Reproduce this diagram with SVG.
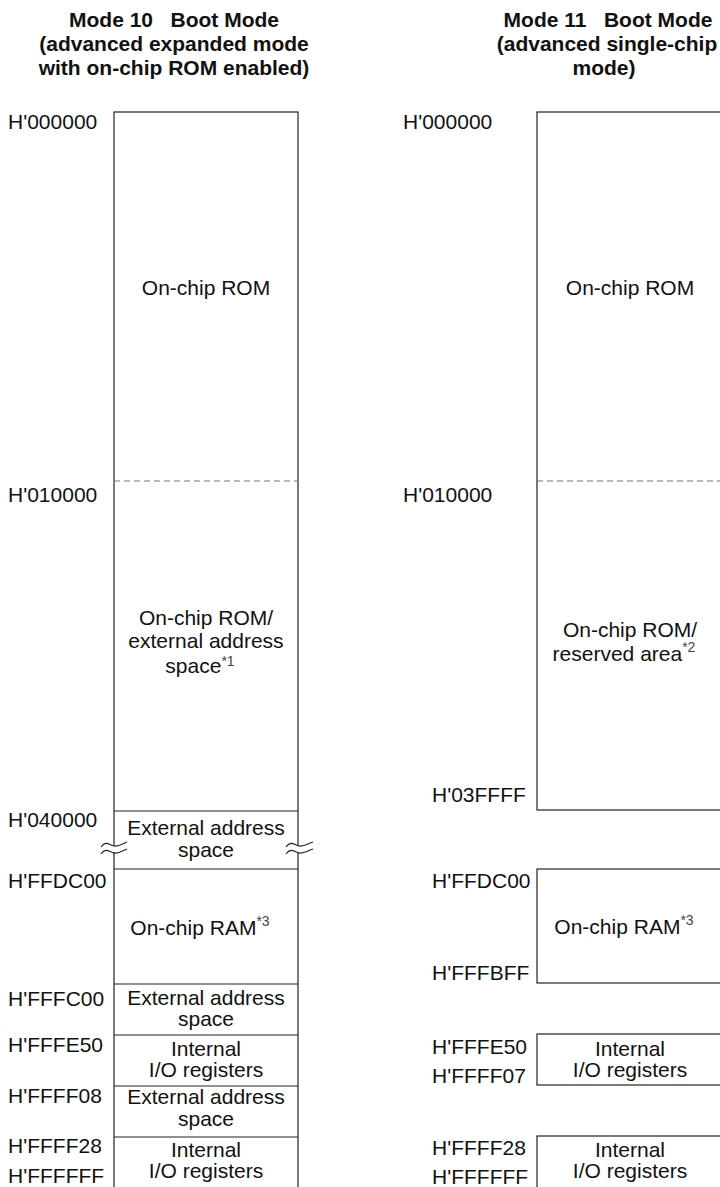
<svg xmlns="http://www.w3.org/2000/svg" width="720" height="1187" viewBox="0 0 720 1187">
<style>
text{font-family:"Liberation Sans",Arial,sans-serif;font-size:21px;fill:#111}
.t{font-weight:bold;text-anchor:middle}
.c{text-anchor:middle}
.sup{font-size:14px;fill:#444}
.box{fill:#fff;stroke:#222;stroke-width:1.2}
.ln{stroke:#222;stroke-width:1.2;fill:none}
.dash{stroke:#777;stroke-width:1.2;stroke-dasharray:6 4;fill:none}
.brk{stroke:#222;stroke-width:1.1;fill:none}
</style>
<rect width="720" height="1187" fill="#fff"/>
<g id="title-left">
<text class="t" x="174" y="27" xml:space="preserve">Mode 10   Boot Mode</text>
<text class="t" x="174" y="51">(advanced expanded mode</text>
<text class="t" x="174" y="75">with on-chip ROM enabled)</text>
</g>
<g id="title-right">
<text class="t" x="608" y="27" xml:space="preserve">Mode 11   Boot Mode</text>
<text class="t" x="607" y="51">(advanced single-chip</text>
<text class="t" x="604" y="75">mode)</text>
</g>
<g id="left-map">
<rect class="box" x="114" y="112" width="184" height="1080"/>
<line class="dash" x1="114" y1="481" x2="298" y2="481"/>
<line class="ln" x1="114" y1="811" x2="298" y2="811"/>
<line class="ln" x1="114" y1="869" x2="298" y2="869"/>
<line class="ln" x1="114" y1="984" x2="298" y2="984"/>
<line class="ln" x1="114" y1="1035" x2="298" y2="1035"/>
<line class="ln" x1="114" y1="1086" x2="298" y2="1086"/>
<line class="ln" x1="114" y1="1137" x2="298" y2="1137"/>
<rect x="110" y="846" width="8" height="6" fill="#fff"/>
<rect x="294" y="846" width="8" height="6" fill="#fff"/>
<path class="brk" d="M101,847 C106,840 109,845 114,846 S122,844 127,842"/>
<path class="brk" d="M101,854 C106,847 109,852 114,853 S122,851 127,849"/>
<path class="brk" d="M286,847 C291,840 294,845 299,846 S307,844 313,842"/>
<path class="brk" d="M286,854 C291,847 294,852 299,853 S307,851 313,849"/>
<text class="c" x="206" y="625">On-chip ROM/</text>
<text class="c" x="206" y="295">On-chip ROM</text>
<text class="c" x="206" y="648">external address</text>
<text class="c" x="200" y="673">space<tspan class="sup" dy="-7">*1</tspan></text>
<text class="c" x="206" y="835">External address</text>
<text class="c" x="206" y="857">space</text>
<text class="c" x="200" y="935">On-chip RAM<tspan class="sup" dy="-9">*3</tspan></text>
<text class="c" x="206" y="1005">External address</text>
<text class="c" x="206" y="1026">space</text>
<text class="c" x="206" y="1056">Internal</text>
<text class="c" x="206" y="1077">I/O registers</text>
<text class="c" x="206" y="1104">External address</text>
<text class="c" x="206" y="1126">space</text>
<text class="c" x="206" y="1157">Internal</text>
<text class="c" x="206" y="1178">I/O registers</text>
</g>
<g id="left-labels">
<text x="8" y="129">H'000000</text>
<text x="8" y="502">H'010000</text>
<text x="8" y="827">H'040000</text>
<text x="8" y="888">H'FFDC00</text>
<text x="8" y="1006">H'FFFC00</text>
<text x="8" y="1052">H'FFFE50</text>
<text x="8" y="1103">H'FFFF08</text>
<text x="8" y="1153">H'FFFF28</text>
<text x="8" y="1183">H'FFFFFF</text>
</g>
<g id="right-map">
<rect class="box" x="537" y="112" width="186" height="698"/>
<line class="dash" x1="537" y1="481" x2="723" y2="481"/>
<rect class="box" x="537" y="869" width="186" height="114"/>
<rect class="box" x="537" y="1034" width="186" height="51"/>
<rect class="box" x="537" y="1136" width="186" height="60"/>
<text class="c" x="630" y="295">On-chip ROM</text>
<text class="c" x="630" y="637">On-chip ROM/</text>
<text class="c" x="624" y="661">reserved area<tspan class="sup" dy="-9">*2</tspan></text>
<text class="c" x="624" y="934">On-chip RAM<tspan class="sup" dy="-9">*3</tspan></text>
<text class="c" x="630" y="1056">Internal</text>
<text class="c" x="630" y="1077">I/O registers</text>
<text class="c" x="630" y="1157">Internal</text>
<text class="c" x="630" y="1178">I/O registers</text>
</g>
<g id="right-labels">
<text x="403" y="129">H'000000</text>
<text x="403" y="502">H'010000</text>
<text x="432" y="802">H'03FFFF</text>
<text x="432" y="888">H'FFDC00</text>
<text x="432" y="980">H'FFFBFF</text>
<text x="432" y="1054">H'FFFE50</text>
<text x="432" y="1083">H'FFFF07</text>
<text x="432" y="1155">H'FFFF28</text>
<text x="432" y="1184">H'FFFFFF</text>
</g>
<g id="connectors"></g>
</svg>
